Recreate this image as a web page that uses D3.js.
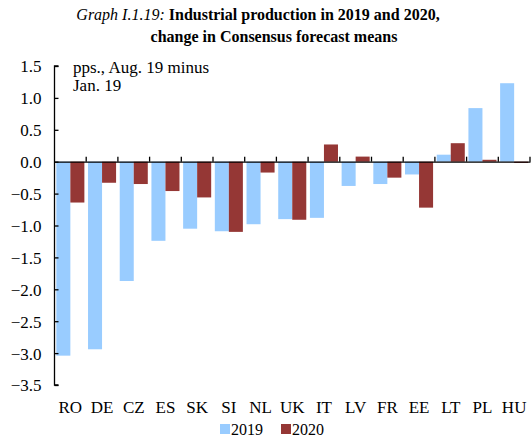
<!DOCTYPE html>
<html><head><meta charset="utf-8">
<script src="https://cdn.jsdelivr.net/npm/d3@7"></script>
<style>
body{margin:0;background:#fff;}
text{font-family:"Liberation Serif","Times New Roman",serif;fill:#000;}
</style></head>
<body><svg id="c" width="531" height="439"></svg>
<script>
const categories = ["RO","DE","CZ","ES","SK","SI","NL","UK","IT","LV","FR","EE","LT","PL","HU"];
const series2019 = [-3.04,-2.94,-1.87,-1.24,-1.05,-1.09,-0.98,-0.90,-0.88,-0.38,-0.35,-0.20,0.11,0.84,1.23];
const series2020 = [-0.64,-0.33,-0.35,-0.46,-0.56,-1.10,-0.17,-0.91,0.27,0.08,-0.25,-0.72,0.29,0.03,-0.02];
const seriesNames = ["2019","2020"];
const colors = ["#99ccff","#953735"];
const yTicks = [1.5,1.0,0.5,0.0,-0.5,-1.0,-1.5,-2.0,-2.5,-3.0,-3.5];

const svg = d3.select("#c");
const x0 = 54.5, x1 = 530, yTop = 66, yBot = 385;
const x = d3.scaleBand().domain(categories).range([x0,x1]).paddingInner(0).paddingOuter(0);
const xs = d3.scaleBand().domain(seriesNames).range([0,x.bandwidth()]).paddingInner(0).paddingOuter(0.13);
const y = d3.scaleLinear().domain([-3.5,1.5]).range([yBot,yTop]);

// title
const t = svg.append("text").attr("x",258).attr("y",20).attr("text-anchor","middle").style("font-size","16px");
t.append("tspan").style("font-style","italic").text("Graph I.1.19: ");
t.append("tspan").style("font-weight","bold").text("Industrial production in 2019 and 2020,");
svg.append("text").attr("x",274).attr("y",42).attr("text-anchor","middle")
  .style("font-size","16px").style("font-weight","bold").text("change in Consensus forecast means");

// bars
const data = categories.map((c,i)=>({c, v:[series2019[i],series2020[i]]}));
const g = svg.append("g");
data.forEach(d=>{
  d.v.forEach((v,j)=>{
    g.append("rect")
      .attr("x", x(d.c)+xs(seriesNames[j]))
      .attr("width", xs.bandwidth())
      .attr("y", y(Math.max(0,v)))
      .attr("height", Math.abs(y(v)-y(0)))
      .attr("fill", colors[j]);
  });
});

// y axis
const ya = svg.append("g").attr("transform",`translate(${x0},0)`)
  .call(d3.axisRight(y).tickValues(yTicks).tickSize(4).tickFormat(d3.format(".1f")));
ya.select(".domain").attr("d",`M4,${yTop}H0V${yBot}H4`).attr("stroke","#000").attr("stroke-width",1.3);
ya.selectAll(".tick line").attr("stroke","#000").attr("stroke-width",1.3);
ya.selectAll(".tick text").attr("x",-13).attr("text-anchor","end").attr("dy","0.35em")
  .style("font-size","17px").style("font-family","Liberation Serif");

// x axis at zero
const xa = svg.append("g").attr("transform",`translate(0,${y(0)})`)
  .call(d3.axisTop(x).tickSize(5).tickSizeOuter(0).tickFormat(""));
xa.select(".domain").attr("stroke","#000").attr("stroke-width",1.3);
xa.selectAll(".tick").attr("transform",d=>`translate(${x(d)+x.bandwidth()},0)`);
xa.selectAll(".tick line").attr("stroke","#000").attr("stroke-width",1.3);

// category labels
svg.append("g").selectAll("text").data(categories).join("text")
  .attr("x",d=>x(d)+x.bandwidth()/2).attr("y",413).attr("text-anchor","middle")
  .style("font-size","17px").text(d=>d);

// annotation
svg.append("text").attr("x",73).attr("y",73).style("font-size","17px").text("pps., Aug. 19 minus");
svg.append("text").attr("x",73).attr("y",91).style("font-size","17px").text("Jan. 19");

// legend
const lx = [220, 281];
seriesNames.forEach((s,i)=>{
  svg.append("rect").attr("x",lx[i]).attr("y",424).attr("width",10).attr("height",10).attr("fill",colors[i]);
  svg.append("text").attr("x",lx[i]+11).attr("y",435).style("font-size","16px").text(s);
});
</script></body></html>
